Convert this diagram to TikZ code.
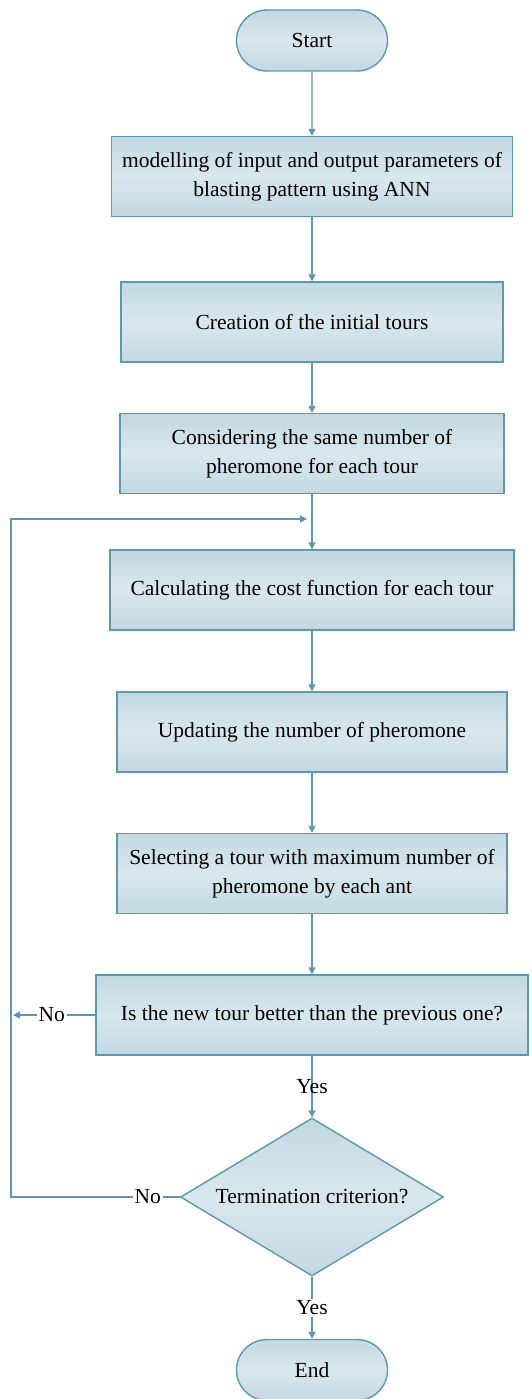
\documentclass[tikz,border=0pt]{standalone}
\usepackage{fontspec}
\setmainfont{Liberation Serif}
\usetikzlibrary{shapes.geometric,shapes.misc,arrows.meta}

\definecolor{edge}{HTML}{5E98AA}
\definecolor{fillA}{HTML}{C3D8E1}
\definecolor{fillB}{HTML}{D9E7EE}

\begin{document}
\begin{tikzpicture}[x=1pt,y=-1pt,
  font=\fontsize{21.5}{29}\selectfont,
  box/.style={draw=edge, line width=1.4pt, top color=fillA, bottom color=fillA,
    middle color=fillB, align=center, inner sep=0pt, minimum height=80pt},
  term/.style={box, rounded rectangle, minimum width=151pt, minimum height=61pt},
  test/.style={box, diamond, aspect=1.665, minimum width=263pt, minimum height=158pt},
  arr/.style={draw=edge, line width=1.4pt, -{Triangle[length=7pt,width=7pt]}},
  lbl/.style={fill=white, inner sep=2pt}]
  \useasboundingbox (0,0) rectangle (532,1399);

  % Blokai
  \coordinate (S) at (312,40.5);
  \coordinate (P1) at (312,176.5);
  \coordinate (P2) at (312,322);
  \coordinate (P3) at (312,453.5);
  \coordinate (P4) at (312,590);
  \coordinate (P5) at (312,732);
  \coordinate (P6) at (312,873.5);
  \coordinate (P7) at (312,1015);
  \coordinate (Q) at (312,1197);
  \coordinate (E) at (312,1370);
  % Grįžimo kelias
  \coordinate (join) at (312,519);
  \coordinate (topleft) at (11,519);
  \coordinate (botleft) at (11,1197);
  \coordinate (back) at (13,1015);

  \node[term] (start) at (S) {Start};
  \node[box, minimum width=401pt] (model) at (P1)
    {modelling of input and output parameters of\\ blasting pattern using ANN};
  \node[box, minimum width=382pt] (create) at (P2) {Creation of the initial tours};
  \node[box, minimum width=384pt] (same) at (P3)
    {Considering the same number of\\ pheromone for each tour};
  \node[box, minimum width=404pt] (cost) at (P4)
    {Calculating the cost function for each tour};
  \node[box, minimum width=390pt] (update) at (P5) {Updating the number of pheromone};
  \node[box, minimum width=390pt] (select) at (P6)
    {Selecting a tour with maximum number of\\ pheromone by each ant};
  \node[box, minimum width=432pt] (better) at (P7)
    {Is the new tour better than the previous one?};
  \node[test] (crit) at (Q) {Termination criterion?};
  \node[term] (end) at (E) {End};

  \draw[arr] (start) -- (model);
  \draw[arr] (model) -- (create);
  \draw[arr] (create) -- (same);
  \draw[arr] (same) -- (cost);
  \draw[arr] (cost) -- (update);
  \draw[arr] (update) -- (select);
  \draw[arr] (select) -- (better);
  \draw[arr] (better) -- node[pos=0.5] {Yes} (crit);
  \draw[arr] (crit) -- node[lbl, pos=0.5] {Yes} (end);
  \draw[arr] (better.west) -- node[lbl, pos=0.53] {No} (back);
  \draw[arr, shorten >=5pt] (crit.west) -- node[lbl, pos=0.19] {No} (botleft)
    -- (topleft) -- (join);
\end{tikzpicture}
\end{document}
